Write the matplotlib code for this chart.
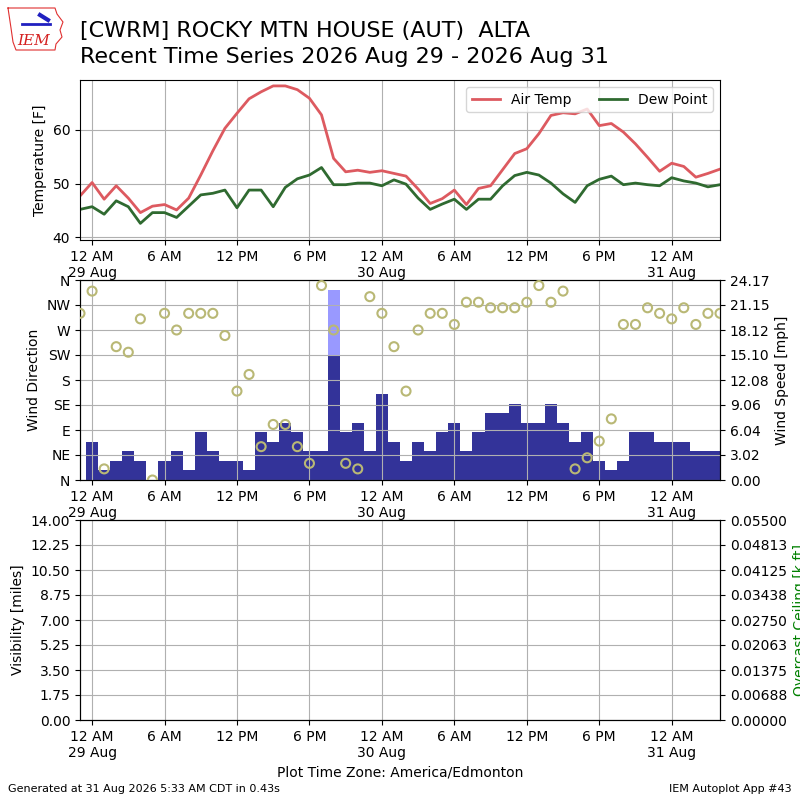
import numpy as np
import pandas as pd
import matplotlib
matplotlib.use("Agg")
import matplotlib.pyplot as plt
import matplotlib.dates as mdates
from matplotlib.ticker import FuncFormatter, FixedLocator
from matplotlib.lines import Line2D

# ---------------- data (hourly obs, local time America/Edmonton) ----------------
start_time = "2026-08-28 23:00"
n_obs = 54

air_temp_f = [47.7, 50.2, 47.1, 49.6, 47.3, 44.6, 45.8, 46.1, 45.1, 47.3,
              51.6, 56.1, 60.3, 63.1, 65.8, 67.1, 68.2, 68.2, 67.5, 65.9,
              62.8, 54.7, 52.2, 52.5, 52.1, 52.4, 51.9, 51.4, 49.0, 46.3,
              47.2, 48.8, 46.1, 49.1, 49.6, 52.6, 55.6, 56.5, 59.3, 62.7,
              63.2, 63.0, 63.9, 60.8, 61.2, 59.6, 57.4, 54.9, 52.3, 53.8,
              53.2, 51.2, 51.9, 52.7]

dew_point_f = [45.2, 45.7, 44.3, 46.8, 45.7, 42.6, 44.6, 44.6, 43.7, 45.8,
               47.9, 48.2, 48.8, 45.5, 48.8, 48.8, 45.7, 49.3, 50.9, 51.6,
               53.0, 49.8, 49.8, 50.1, 50.1, 49.6, 50.7, 49.9, 47.3, 45.2,
               46.2, 47.1, 45.2, 47.1, 47.1, 49.6, 51.5, 52.1, 51.6, 50.1,
               48.1, 46.5, 49.6, 50.8, 51.4, 49.8, 50.1, 49.8, 49.6, 51.1,
               50.5, 50.1, 49.4, 49.8]

wind_dir_deg = [300, 340, 20, 240, 230, 290, 0, 300, 270, 300,
                300, 300, 260, 160, 190, 60, 100, 100, 60, 30,
                350, 270, 30, 20, 330, 300, 240, 160, 270, 300,
                300, 280, 320, 320, 310, 310, 310, 320, 350, 320,
                340, 20, 40, 70, 110, 280, 280, 310, 300, 290,
                310, 280, 300, 300]

wind_speed_kt = [0, 4, 1, 2, 3, 2, 0, 2, 3, 1,
                 5, 3, 2, 2, 1, 5, 4, 6, 5, 3,
                 3, 13, 5, 6, 3, 9, 4, 2, 4, 3,
                 5, 6, 3, 5, 7, 7, 8, 6, 6, 8,
                 6, 4, 5, 2, 1, 2, 5, 5, 4, 4,
                 4, 3, 3, 3]

nan = float("nan")
wind_gust_kt = [nan] * 21 + [20] + [nan] * 32

wind_ymax_kt = 21
temp_ylim = (39.5, 69.3)
temp_ticks = [40, 50, 60]
dir_labels = ["N", "NE", "E", "SE", "S", "SW", "W", "NW", "N"]
vis_max = 14.0
ceil_max = 0.055

KT2MPH = 1.15078

# ---------------- figure ----------------
times = pd.date_range(start_time, periods=n_obs, freq="h")
tnum = mdates.date2num(times.to_pydatetime())

fig = plt.figure(figsize=(8, 8), dpi=100)

fig.text(0.1, 1 - 36.5 / 800, "[CWRM] ROCKY MTN HOUSE (AUT)  ALTA",
         fontsize=16, va="baseline", ha="left")
fig.text(0.1, 1 - 63.0 / 800, "Recent Time Series 2026 Aug 29 - 2026 Aug 31",
         fontsize=16, va="baseline", ha="left")

# logo approximation (Iowa outline + IEM)
def px(x, y):
    return x / 800.0, 1 - y / 800.0
outline = [(8, 8), (55, 8), (57, 14), (63, 22), (60, 30), (62, 37),
           (56, 44), (55, 50), (16, 50), (13, 42), (11, 28), (8, 8)]
ox, oy = zip(*[px(*p) for p in outline])
fig.add_artist(Line2D(ox, oy, color="#e03030", lw=0.8, transform=fig.transFigure))
bx, by = zip(*[px(22, 24), px(50, 24)])
fig.add_artist(Line2D(bx, by, color="#2020c0", lw=2, transform=fig.transFigure))
cx, cy = zip(*[px(40, 15), px(48, 20)])
fig.add_artist(Line2D(cx, cy, color="#2020c0", lw=3, transform=fig.transFigure))
fig.text(17 / 800, 1 - 45 / 800, "IEM", color="#d42020", fontsize=11,
         family="DejaVu Serif", style="italic", va="baseline", ha="left")

def fmt_time(x, pos=None):
    d = mdates.num2date(x)
    h = d.hour
    if h == 0:
        lab = "12 AM"
    elif h == 12:
        lab = "12 PM"
    elif h < 12:
        lab = "%d AM" % h
    else:
        lab = "%d PM" % (h - 12)
    if h == 0:
        lab += "\n%d %s" % (d.day, d.strftime("%b"))
    return lab

def setup_x(ax):
    ax.xaxis.set_major_locator(mdates.HourLocator(byhour=[0, 6, 12, 18]))
    ax.xaxis.set_major_formatter(FuncFormatter(fmt_time))
    ax.set_xlim(tnum[0], tnum[-1])

# --- top: temperature
ax1 = fig.add_axes([0.1, 0.7, 0.8, 0.2])
ax1.plot(tnum, air_temp_f, color="#dd5a60", lw=2, label="Air Temp")
ax1.plot(tnum, dew_point_f, color="#2f6a30", lw=2, label="Dew Point")
ax1.set_ylim(*temp_ylim)
ax1.yaxis.set_major_locator(FixedLocator(temp_ticks))
ax1.set_ylabel("Temperature [F]")
ax1.grid(True)
setup_x(ax1)
ax1.legend(loc="upper right", ncol=2)

# --- middle: wind
ax2 = fig.add_axes([0.1, 0.4, 0.8, 0.25])   # direction (left)
ax2b = ax2.twinx()                            # speed (right)
gust_mph = np.array(wind_gust_kt, dtype=float) * KT2MPH
speed_mph = np.array(wind_speed_kt, dtype=float) * KT2MPH
ax2b.bar(tnum, gust_mph, width=1 / 24.0, color="#9999ff", align="center")
ax2b.bar(tnum, speed_mph, width=1 / 24.0, color="#333399", align="center")
ymax = wind_ymax_kt * KT2MPH
ax2b.set_ylim(0, ymax)
ax2b.set_yticks(np.linspace(0, ymax, 9))
ax2b.yaxis.set_major_formatter(FuncFormatter(lambda v, p: "%.2f" % v))
ax2b.set_ylabel("Wind Speed [mph]")

ax2.scatter(tnum, wind_dir_deg, s=42, facecolors="none",
            edgecolors="#b9b875", linewidths=1.5, zorder=5, clip_on=True)
ax2.set_ylim(0, 360)
ax2.set_yticks(np.arange(0, 361, 45))
ax2.set_yticklabels(dir_labels)
ax2.set_ylabel("Wind Direction")
ax2.grid(True)
ax2.set_zorder(ax2b.get_zorder() + 1)
ax2.patch.set_visible(False)
setup_x(ax2)
setup_x(ax2b)

# --- bottom: visibility / ceiling (no data)
ax3 = fig.add_axes([0.1, 0.1, 0.8, 0.25])
ax3.set_ylim(0, vis_max)
ax3.set_yticks(np.linspace(0, vis_max, 9))
ax3.yaxis.set_major_formatter(FuncFormatter(lambda v, p: "%.2f" % v))
ax3.set_ylabel("Visibility [miles]")
ax3.grid(True)
setup_x(ax3)
ax3.set_xlabel("Plot Time Zone: America/Edmonton")
ax3b = ax3.twinx()
ax3b.set_ylim(0, ceil_max)
ax3b.set_yticks(np.linspace(0, ceil_max, 9))
ax3b.yaxis.set_major_formatter(FuncFormatter(lambda v, p: "%.5f" % v))
ax3b.set_ylabel("Overcast Ceiling [k ft]", color="green")
setup_x(ax3b)

fig.text(0.01, 0.008, "Generated at 31 Aug 2026 5:33 AM CDT in 0.43s",
         fontsize=8, ha="left", va="bottom")
fig.text(0.99, 0.008, "IEM Autoplot App #43", fontsize=8, ha="right", va="bottom")

fig.savefig("out.png", dpi=100)
